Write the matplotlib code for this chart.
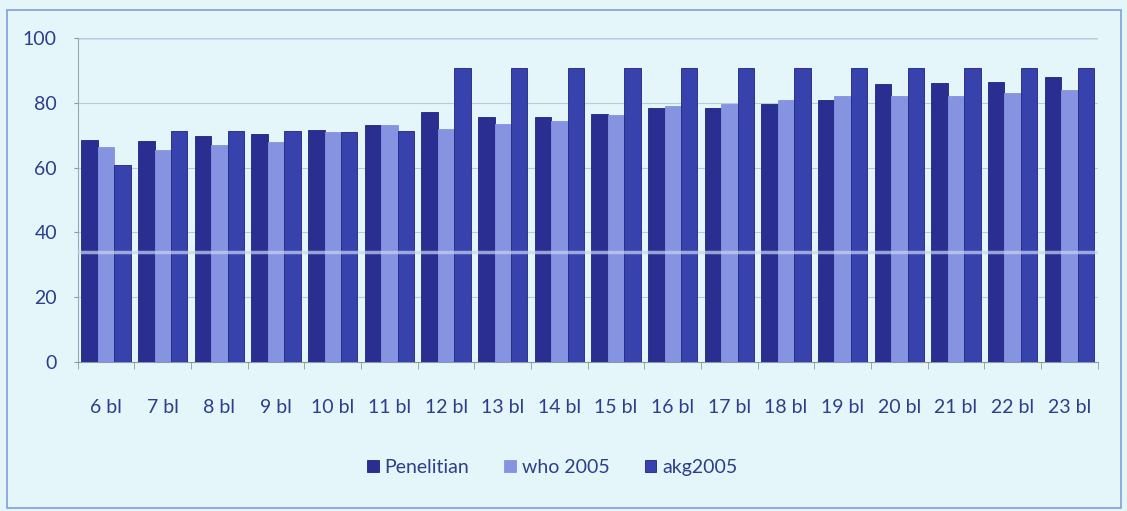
import numpy as np
import matplotlib
matplotlib.use("Agg")
import matplotlib.pyplot as plt
from matplotlib.patches import Rectangle

plt.rcParams['font.family'] = ['Lato', 'DejaVu Sans']

months = ['6 bl', '7 bl', '8 bl', '9 bl', '10 bl', '11 bl', '12 bl', '13 bl', '14 bl',
          '15 bl', '16 bl', '17 bl', '18 bl', '19 bl', '20 bl', '21 bl', '22 bl', '23 bl']
penelitian = [68.4, 68.1, 69.8, 70.5, 71.7, 73.3, 77.2, 75.6, 75.6,
              76.7, 78.3, 78.5, 79.5, 81.0, 85.7, 86.0, 86.5, 88.0]
who2005 = [66.3, 65.3, 66.9, 67.9, 71.0, 73.3, 72.0, 73.6, 74.5,
           76.2, 79.0, 79.5, 80.8, 82.2, 82.0, 82.0, 83.0, 84.0]
akg2005 = [60.7, 71.2, 71.2, 71.2, 71.0, 71.2, 90.7, 90.7, 90.7,
           90.7, 90.7, 90.7, 90.7, 90.7, 90.7, 90.7, 90.7, 90.7]
series_names = ['Penelitian', 'who 2005', 'akg2005']

bg = '#e4f6fa'
txt = '#2c3e8c'
colors = ['#2a2e90', '#8593e0', '#3742ac']

fig = plt.figure(figsize=(11.27, 5.11), dpi=100, facecolor=bg)
ax = fig.add_axes([0.069, 0.2916, 0.905, 0.634])
ax.set_facecolor(bg)

x = np.arange(len(months))
w = 0.29
for i, (vals, c) in enumerate(zip([penelitian, who2005, akg2005], colors)):
    ax.bar(x + (i - 1) * w, vals, w, color=c, edgecolor='#1e2380' if i != 1 else c,
           linewidth=0.6, label=series_names[i], zorder=3)

# faint scan stripe across the bars
ax.axhline(34, color='#c8d4f4', lw=2.5, alpha=0.7, zorder=4)

ax.set_xlim(-0.5, len(months) - 0.5)
ax.set_ylim(0, 100)
ax.set_yticks(range(0, 101, 20))
ax.yaxis.grid(True, color='#b8cdd6', lw=0.8, zorder=0)
ax.set_xticks(x)
ax.set_xticklabels(months)
ax.set_xticks(np.arange(-0.5, len(months)), minor=True)
ax.tick_params(axis='x', which='major', length=0, pad=27, labelsize=14, labelcolor=txt)
ax.tick_params(axis='x', which='minor', length=5, color='#8a9aa8', direction='out')
ax.tick_params(axis='y', length=3, color='#8a9aa8', labelsize=14, labelcolor=txt, pad=12)
for s in ['top', 'right']:
    ax.spines[s].set_visible(False)
ax.spines['left'].set_color('#9aa8b4')
ax.spines['bottom'].set_color('#8a9aa8')
ax.axhline(100, color='#6f8fdc', lw=1, zorder=1)

leg = fig.legend(loc='center', bbox_to_anchor=(0.49, 0.085), ncol=3, frameon=False,
                 fontsize=14, handlelength=0.6, handleheight=0.6, columnspacing=1.8,
                 handletextpad=0.3)
for t in leg.get_texts():
    t.set_color(txt)

# outer chart border
fig.patches.append(Rectangle((0.006, 0.006), 0.989, 0.975, transform=fig.transFigure,
                             fill=False, edgecolor='#7f9fd8', lw=1.2))

fig.savefig('out.png', dpi=100, facecolor=bg)
